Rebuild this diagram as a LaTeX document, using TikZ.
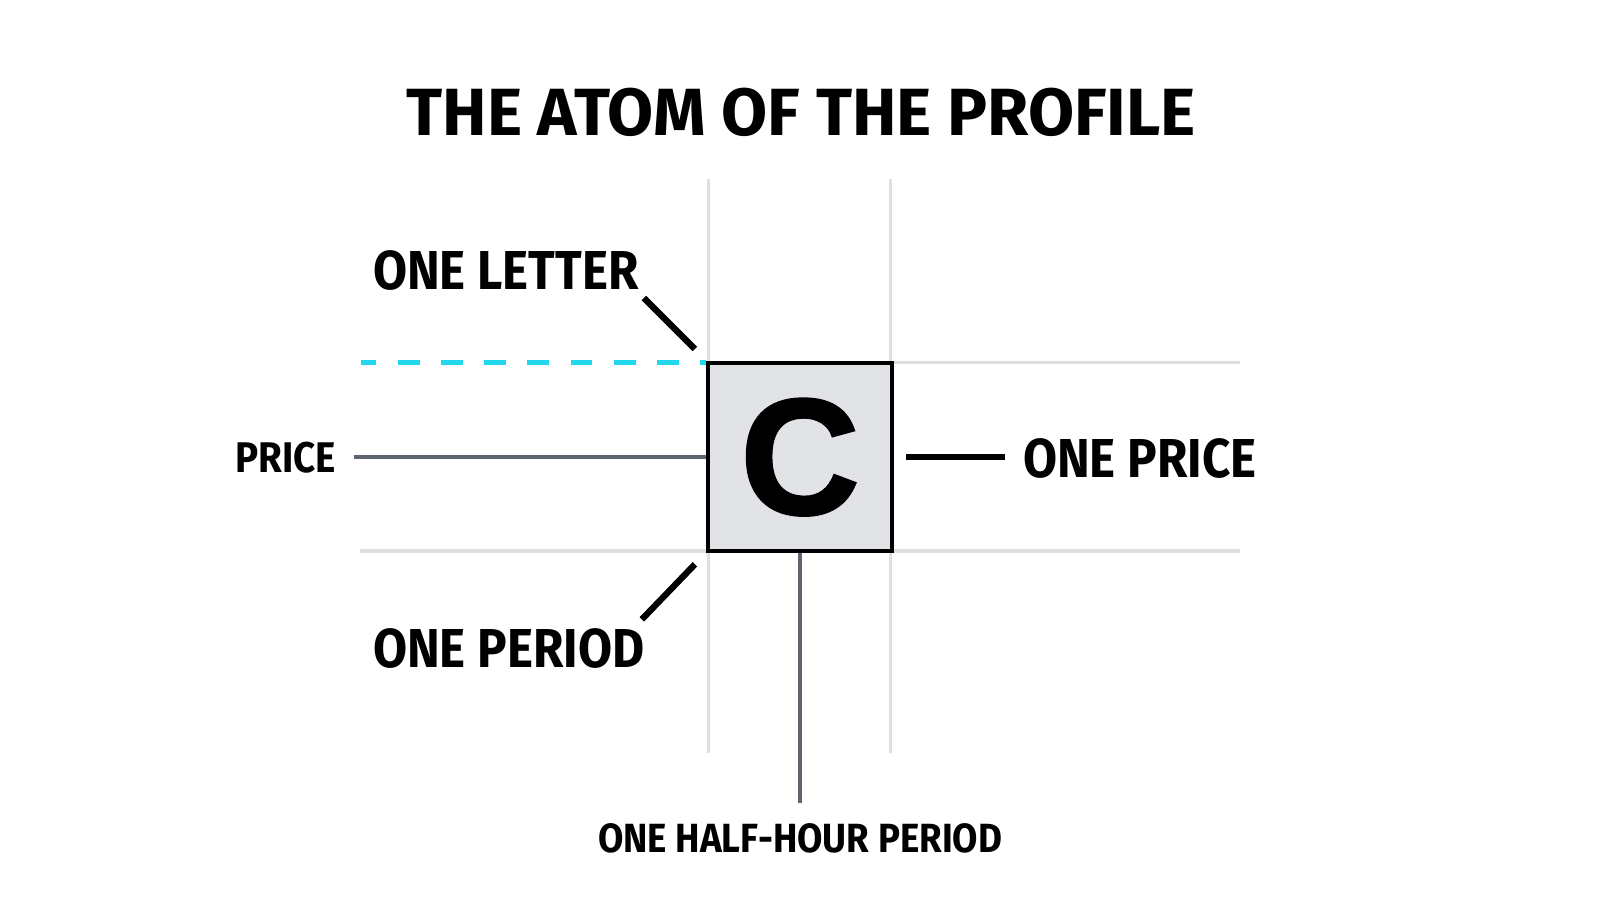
\documentclass[tikz,border=0pt]{standalone}
\usepackage{fontspec}
\setmainfont{Fira Sans}
\newfontfamily\narrowfont[FakeStretch=0.9]{Fira Sans}
\newfontfamily\cellfont[BoldFeatures={FakeBold=1.6}]{Liberation Sans}
\usepackage{tikz}
\definecolor{ink}{HTML}{000000}
\definecolor{grid}{HTML}{DEDFE2}
\definecolor{slate}{HTML}{5F6470}
\definecolor{cellfill}{HTML}{E1E3E6}
\definecolor{cyan}{HTML}{22D8EE}
\tikzset{
  gridline/.style={draw=grid, line width=0.9pt},
  axisline/.style={draw=slate, line width=1.1pt},
  leader/.style={draw=ink, line width=1.8pt},
  cell/.style={draw=ink, fill=cellfill, line width=1.3pt, minimum width=1.84cm, minimum height=1.88cm, inner sep=0pt},
  lbl/.style={text=ink, font=\narrowfont\bfseries\fontsize{15.6}{18}\selectfont, inner sep=0pt},
  small/.style={text=ink, font=\narrowfont\bfseries\fontsize{11.6}{13}\selectfont, inner sep=0pt}
}
\begin{document}
\begin{tikzpicture}[x=1.0204cm,y=1.0204cm]
\useasboundingbox (0,0) rectangle (15.68,-8.957);

\node[text=ink, font=\bfseries\fontsize{19}{22}\selectfont, inner sep=0pt] (title) at (7.85,-1.10) {THE ATOM OF THE PROFILE};

% grid
\draw[gridline] (6.94,-1.75) -- (6.94,-7.38);
\draw[gridline] (8.73,-1.75) -- (8.73,-7.38);
\draw[gridline] (8.75,-3.55) -- (12.15,-3.55);
\draw[gridline] (3.53,-5.40) -- (12.15,-5.40);
\draw[cyan, line width=1.45pt, dash pattern=on 6.2pt off 6.1pt, dash phase=1.9pt] (3.54,-3.55) -- (6.92,-3.55);

\node[cell] (cell) at (7.84,-4.48) {};
\node[text=ink, font=\cellfont\bfseries\fontsize{47}{50}\selectfont, inner sep=0pt] (letter) at (cell.center) {C};

% price axis
\node[small, font=\narrowfont\bfseries\fontsize{12.2}{14}\selectfont, anchor=east] (price) at (3.30,-4.48) {PRICE};
\coordinate (p0) at (3.47,-4.48);
\draw[axisline] (p0) -- (cell.west);

% one price
\node[lbl, anchor=west] (oneprice) at (10.02,-4.49) {ONE PRICE};
\coordinate (q0) at (8.88,-4.48);
\coordinate (q1) at (9.85,-4.48);
\draw[leader] (q0) -- (q1);

% one letter
\node[lbl, anchor=west] (oneletter) at (3.65,-2.65) {ONE LETTER};
\coordinate (l0) at (6.31,-2.92);
\coordinate (l1) at (6.81,-3.42);
\draw[leader] (l0) -- (l1);

% one period
\node[lbl, anchor=west] (oneperiod) at (3.65,-6.36) {ONE PERIOD};
\coordinate (r0) at (6.81,-5.53);
\coordinate (r1) at (6.29,-6.07);
\draw[leader] (r0) -- (r1);

% half-hour
\coordinate (h1) at (7.84,-7.87);
\draw[axisline] (cell.south) -- (h1);
\node[small] (halfhour) at (7.84,-8.22) {ONE HALF-HOUR PERIOD};
\end{tikzpicture}
\end{document}
